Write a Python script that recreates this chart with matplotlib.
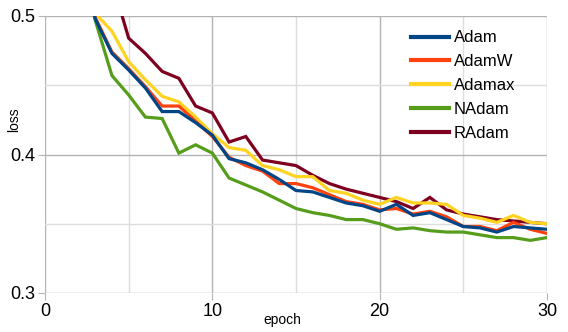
import numpy as np
import matplotlib
matplotlib.use("Agg")
import matplotlib.pyplot as plt
from matplotlib.ticker import MultipleLocator

plt.rcParams['font.family'] = ['Liberation Sans', 'DejaVu Sans']

epochs = list(range(1, 31))

adam = [0.65, 0.56, 0.498, 0.473, 0.461, 0.448, 0.431, 0.431, 0.423, 0.414,
        0.397, 0.394, 0.389, 0.382, 0.374, 0.373, 0.369, 0.365, 0.363, 0.359,
        0.364, 0.356, 0.358, 0.353, 0.348, 0.347, 0.344, 0.348, 0.347, 0.346]
adamw = [0.65, 0.56, 0.499, 0.474, 0.462, 0.449, 0.435, 0.435, 0.424, 0.413,
         0.398, 0.392, 0.388, 0.379, 0.379, 0.376, 0.371, 0.366, 0.364, 0.360,
         0.361, 0.357, 0.359, 0.355, 0.348, 0.348, 0.345, 0.351, 0.346, 0.343]
adamax = [0.66, 0.57, 0.502, 0.489, 0.467, 0.454, 0.442, 0.438, 0.427, 0.415,
          0.405, 0.403, 0.392, 0.389, 0.384, 0.384, 0.374, 0.372, 0.367, 0.364,
          0.369, 0.365, 0.365, 0.364, 0.356, 0.354, 0.351, 0.356, 0.351, 0.350]
nadam = [0.64, 0.55, 0.497, 0.457, 0.443, 0.427, 0.426, 0.401, 0.407, 0.401,
         0.383, 0.378, 0.373, 0.367, 0.361, 0.358, 0.356, 0.353, 0.353, 0.350,
         0.346, 0.347, 0.345, 0.344, 0.344, 0.342, 0.340, 0.340, 0.338, 0.340]
radam = [0.70, 0.60, 0.560, 0.525, 0.484, 0.473, 0.460, 0.455, 0.435, 0.430,
         0.409, 0.413, 0.396, 0.394, 0.392, 0.385, 0.379, 0.375, 0.372, 0.369,
         0.366, 0.361, 0.369, 0.360, 0.357, 0.355, 0.353, 0.352, 0.351, 0.350]

names = ["Adam", "AdamW", "Adamax", "NAdam", "RAdam"]
colors = ["#004586", "#ff420e", "#ffd320", "#579d1c", "#7e0021"]

fig = plt.figure(figsize=(5.68, 3.32), dpi=100)
ax = fig.add_axes([45/568, 39/332, 502/568, 277/332])

# first series ends up on top, like the original
series = [adam, adamw, adamax, nadam, radam]
for i, (vals, name, col) in enumerate(zip(series, names, colors)):
    ax.plot(epochs, vals, color=col, lw=2.3, label=name,
            solid_joinstyle='miter', zorder=10 - i)

ax.set_xlim(0, 30)
ax.set_ylim(0.3, 0.5)
ax.xaxis.set_major_locator(MultipleLocator(10))
ax.xaxis.set_minor_locator(MultipleLocator(5))
ax.yaxis.set_major_locator(MultipleLocator(0.1))
ax.yaxis.set_minor_locator(MultipleLocator(0.05))
ax.grid(which='major', color='#b3b3b3', lw=1)
ax.grid(which='minor', color='#dddddd', lw=1)
ax.set_axisbelow(True)
for s in ax.spines.values():
    s.set_visible(False)
ax.tick_params(which='major', length=5, color='#b3b3b3', labelsize=13, pad=2)
ax.tick_params(which='minor', length=0)

ax.set_xlabel("epoch", fontsize=10, va='center')
ax.set_ylabel("loss", fontsize=10, va='center')
ax.xaxis.set_label_coords(0.472, -0.097)
ax.yaxis.set_label_coords(-0.062, 0.625)

leg = ax.legend(loc='upper left', bbox_to_anchor=(0.715, 0.972), frameon=False,
                fontsize=12, handlelength=2.3, handletextpad=0.3, labelspacing=0.53,
                borderaxespad=0)
leg.set_zorder(20)
for h in leg.get_lines():
    h.set_linewidth(3)

fig.savefig("out.png", dpi=100)
